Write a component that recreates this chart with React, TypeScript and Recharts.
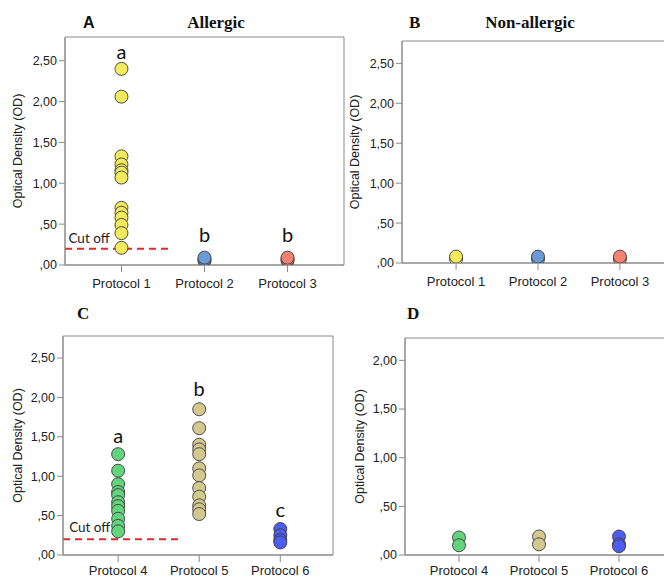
import React from 'react';
import {
  ScatterChart,
  Scatter,
  XAxis,
  YAxis,
  ReferenceLine,
  ReferenceDot,
  ReferenceArea,
} from 'recharts';

// ---- Data ----
const topCategories = ['Protocol 1', 'Protocol 2', 'Protocol 3'];
const bottomCategories = ['Protocol 4', 'Protocol 5', 'Protocol 6'];
const categoryTicks = [1, 2, 3];
const yTicksTall = [0, 0.5, 1, 1.5, 2, 2.5];
const yTicksShort = [0, 0.5, 1, 1.5, 2];

// Panel A (Allergic)
const allergicP1 = [2.4, 2.06, 1.33, 1.23, 1.16, 1.13, 1.07, 0.7, 0.64, 0.58, 0.49, 0.39, 0.21];
const allergicP2 = [0.05, 0.07, 0.09];
const allergicP3 = [0.05, 0.07, 0.09];
// Panel B (Non-allergic)
const nonAllergicP1 = [0.05, 0.08];
const nonAllergicP2 = [0.05, 0.08];
const nonAllergicP3 = [0.05, 0.08];
// Panel C (Allergic)
const allergicP4 = [1.28, 1.07, 0.9, 0.8, 0.76, 0.67, 0.62, 0.56, 0.46, 0.37, 0.3];
const allergicP5 = [1.85, 1.61, 1.4, 1.34, 1.28, 1.1, 1.01, 0.85, 0.74, 0.63, 0.58, 0.52];
const allergicP6 = [0.33, 0.25, 0.19, 0.16];
// Panel D (Non-allergic)
const nonAllergicP4 = [0.18, 0.1];
const nonAllergicP5 = [0.19, 0.11];
const nonAllergicP6 = [0.19, 0.11, 0.09];

const cutOff = 0.2;
const lettersA = [
  { x: 1, y: 2.61, t: 'a' },
  { x: 2, y: 0.37, t: 'b' },
  { x: 3, y: 0.37, t: 'b' },
];
const lettersC = [
  { x: 1, y: 1.51, t: 'a' },
  { x: 2, y: 2.11, t: 'b' },
  { x: 3, y: 0.57, t: 'c' },
];

const colors = {
  yellow: '#f3eb5c',
  blue: '#6b9bd2',
  salmon: '#f2826f',
  green: '#62d47c',
  tan: '#d3c98e',
  violet: '#4d5cf2',
};

const toPoints = (cat: number, vals: number[]) => vals.map((v) => ({ x: cat, y: v }));

const fmtY = (v: number) => {
  const s = v.toFixed(2).replace('.', ',');
  return s.startsWith('0') ? s.slice(1) : s;
};

const AXIS_FONT = '"Liberation Sans", Arial, sans-serif';
const LETTER_FONT = 'Lato, "Open Sans", sans-serif';

type Series = { cat: number; vals: number[]; color: string };

type PanelProps = {
  left: number;
  top: number;
  width: number;
  height: number;
  yAxisWidth: number;
  margin: { top: number; right: number; bottom: number; left: number };
  xDomain: [number, number];
  yMax: number;
  yTicks: number[];
  categories: string[];
  series: Series[];
  labelOffset: number;
  xTickMargin: number;
  cutOffEnd?: number;
  cutOffText?: { x: number; y: number };
  letters?: { x: number; y: number; t: string }[];
};

const CircleShape = (color: string) => (props: any) => (
  <circle cx={props.cx} cy={props.cy} r={6.5} fill={color} stroke="#3c3c3c" strokeWidth={0.9} />
);

function Panel(p: PanelProps) {
  return (
    <div style={{ position: 'absolute', left: p.left, top: p.top }}>
      <ScatterChart width={p.width} height={p.height} margin={p.margin}>
        <XAxis
          type="number"
          dataKey="x"
          domain={p.xDomain}
          ticks={categoryTicks}
          allowDataOverflow
          tickFormatter={(v: number) => p.categories[v - 1] ?? ''}
          height={20}
          tickSize={7}
          tickMargin={p.xTickMargin}
          stroke="#8a8a8a"
          tick={{ fill: '#222', fontSize: 13, fontFamily: AXIS_FONT }}
          interval={0}
        />
        <YAxis
          type="number"
          dataKey="y"
          domain={[0, p.yMax]}
          ticks={p.yTicks}
          allowDataOverflow
          width={p.yAxisWidth}
          tickFormatter={fmtY}
          tickSize={6}
          tickMargin={2}
          stroke="#8a8a8a"
          tick={{ fill: '#222', fontSize: 12.5, fontFamily: AXIS_FONT }}
          interval={0}
          label={{
            value: 'Optical Density (OD)',
            angle: -90,
            position: 'insideLeft',
            offset: p.labelOffset,
            style: { textAnchor: 'middle', fill: '#222', fontSize: 12.5, fontFamily: AXIS_FONT },
          }}
        />
        <ReferenceArea
          x1={p.xDomain[0]}
          x2={p.xDomain[1]}
          y1={0}
          y2={p.yMax}
          fill="none"
          stroke="#8a8a8a"
          strokeWidth={1}
        />
        {p.cutOffEnd !== undefined && (
          <ReferenceLine
            segment={[
              { x: p.xDomain[0], y: cutOff },
              { x: p.cutOffEnd, y: cutOff },
            ]}
            stroke="#e02a2a"
            strokeWidth={2}
            strokeDasharray="7 5"
          />
        )}
        {p.cutOffText && (
          <ReferenceDot
            x={p.cutOffText.x}
            y={p.cutOffText.y}
            r={0}
            fill="none"
            stroke="none"
            label={{
              value: 'Cut off',
              position: 'center',
              fill: '#222',
              fontSize: 13.5,
              fontFamily: LETTER_FONT,
            }}
          />
        )}
        {p.series.map((s, i) => (
          <Scatter
            key={i}
            data={toPoints(s.cat, s.vals)}
            fill={s.color}
            shape={CircleShape(s.color)}
            isAnimationActive={false}
          />
        ))}
        {(p.letters ?? []).map((l, i) => (
          <ReferenceDot
            key={'l' + i}
            x={l.x}
            y={l.y}
            r={0}
            fill="none"
            stroke="none"
            label={{
              value: l.t,
              position: 'center',
              fill: '#111',
              fontSize: 20,
              fontFamily: LETTER_FONT,
            }}
          />
        ))}
      </ScatterChart>
    </div>
  );
}

export default function App() {
  return (
    <div
      style={{
        position: 'absolute',
        left: 0,
        top: 0,
        width: 664,
        height: 577,
        overflow: 'hidden',
        background: '#fff',
      }}
    >
      <Panel
        left={0}
        top={0}
        width={352}
        height={290}
        yAxisWidth={65}
        margin={{ top: 37, right: 8, bottom: 5, left: 0 }}
        xDomain={[0.32, 3.68]}
        yMax={2.79}
        yTicks={yTicksTall}
        categories={topCategories}
        labelOffset={18}
        xTickMargin={7}
        cutOffEnd={1.6}
        cutOffText={{ x: 0.61, y: 0.33 }}
        letters={lettersA}
        series={[
          { cat: 1, vals: allergicP1, color: colors.yellow },
          { cat: 2, vals: allergicP2, color: colors.blue },
          { cat: 3, vals: allergicP3, color: colors.salmon },
        ]}
      />
      <Panel
        left={336}
        top={0}
        width={350}
        height={290}
        yAxisWidth={66}
        margin={{ top: 41, right: 12, bottom: 7, left: 0 }}
        xDomain={[0.34, 3.66]}
        yMax={2.78}
        yTicks={yTicksTall}
        categories={topCategories}
        labelOffset={19}
        xTickMargin={7}
        series={[
          { cat: 1, vals: nonAllergicP1, color: colors.yellow },
          { cat: 2, vals: nonAllergicP2, color: colors.blue },
          { cat: 3, vals: nonAllergicP3, color: colors.salmon },
        ]}
      />
      <Panel
        left={0}
        top={290}
        width={340}
        height={287}
        yAxisWidth={63}
        margin={{ top: 46, right: 7, bottom: 2, left: 0 }}
        xDomain={[0.32, 3.65]}
        yMax={2.78}
        yTicks={yTicksTall}
        categories={bottomCategories}
        labelOffset={18}
        xTickMargin={4}
        cutOffEnd={1.77}
        cutOffText={{ x: 0.65, y: 0.35 }}
        letters={lettersC}
        series={[
          { cat: 1, vals: allergicP4, color: colors.green },
          { cat: 2, vals: allergicP5, color: colors.tan },
          { cat: 3, vals: allergicP6, color: colors.violet },
        ]}
      />
      <Panel
        left={336}
        top={290}
        width={350}
        height={287}
        yAxisWidth={69}
        margin={{ top: 48, right: 13, bottom: 2, left: 0 }}
        xDomain={[0.325, 3.675]}
        yMax={2.23}
        yTicks={yTicksShort}
        categories={bottomCategories}
        labelOffset={24}
        xTickMargin={4}
        series={[
          { cat: 1, vals: nonAllergicP4, color: colors.green },
          { cat: 2, vals: nonAllergicP5, color: colors.tan },
          { cat: 3, vals: nonAllergicP6, color: colors.violet },
        ]}
      />
      <svg
        width={664}
        height={577}
        style={{ position: 'absolute', left: 0, top: 0, pointerEvents: 'none' }}
      >
        <text x={83} y={28} fontFamily={AXIS_FONT} fontWeight="bold" fontSize={16} fill="#111">
          A
        </text>
        <text
          x={216}
          y={28}
          textAnchor="middle"
          fontFamily='"Liberation Serif", serif'
          fontWeight="bold"
          fontSize={17}
          fill="#111"
        >
          Allergic
        </text>
        <text x={409} y={28} fontFamily='"Liberation Serif", serif' fontWeight="bold" fontSize={17} fill="#111">
          B
        </text>
        <text
          x={530}
          y={28}
          textAnchor="middle"
          fontFamily='"Liberation Serif", serif'
          fontWeight="bold"
          fontSize={17}
          fill="#111"
        >
          Non-allergic
        </text>
        <text x={77} y={319} fontFamily='"Liberation Serif", serif' fontWeight="bold" fontSize={17} fill="#111">
          C
        </text>
        <text x={407} y={319} fontFamily='"Liberation Serif", serif' fontWeight="bold" fontSize={17} fill="#111">
          D
        </text>
      </svg>
    </div>
  );
}
